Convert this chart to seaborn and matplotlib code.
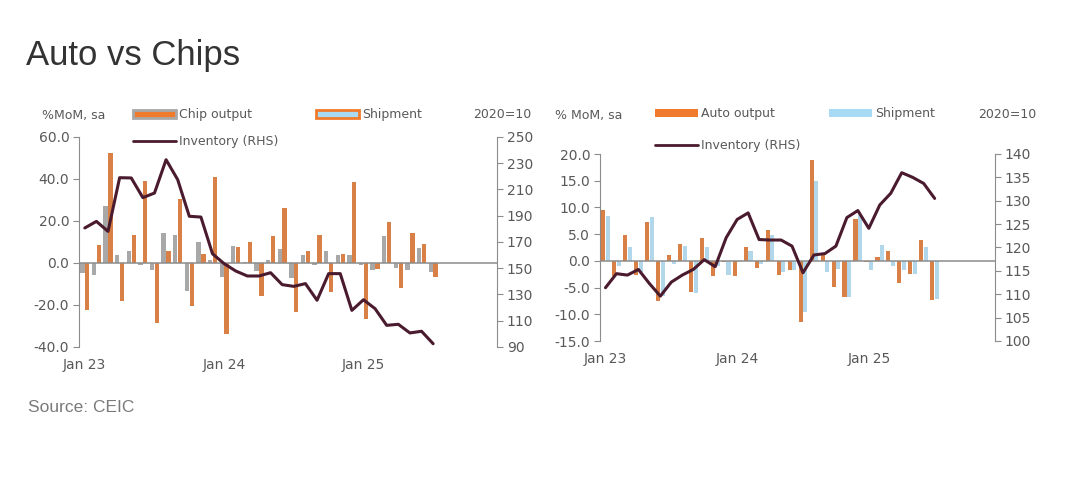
import numpy as np
import pandas as pd
import matplotlib
matplotlib.use("Agg")
import matplotlib.pyplot as plt
from matplotlib.patches import Patch
from matplotlib.lines import Line2D
import seaborn as sns

# month axis: Jan 23 .. Dec 25 (data up to Jul 25)
months = [f"{m} {y}" for y in ["23", "24", "25"]
          for m in ["Jan", "Feb", "Mar", "Apr", "May", "Jun",
                    "Jul", "Aug", "Sep", "Oct", "Nov", "Dec"]]
n_data = 31
tick_labels = ["Jan 23", "Jan 24", "Jan 25"]

# left panel: chips (%MoM, sa) and inventory index (2020=100)
chip_output = [-5, -5.9, 27, 3.7, 5.6, -1, -3.5, 14.5, 13.5, -13.4, 10, 1.5,
               -6.7, 8, 0.5, -4, 1.3, 6.5, -7, 4, -0.8, 5.6, 3.7, 4,
               -1, -3.5, 12.9, -2.4, -3.5, 7.2, -4.3]
chip_shipment = [-22.6, 8.8, 52.5, -18.3, 13.2, 39, -28.7, 5.9, 30.3, -20.6, 4.3, 41,
                 -33.8, 7.8, 9.8, -15.6, 12.8, 26, -23.5, 5.7, 13.2, -13.9, 4.3, 38.4,
                 -26.6, -2.7, 19.6, -11.8, 14.4, 9.2, -6.7]
chip_inventory = [180.7, 185.7, 178.1, 219, 218.8, 203.8, 207.3, 232.7, 217.5, 189.6, 189, 161,
                  153.5, 147.9, 144.1, 144.1, 146.6, 137.5, 136.2, 138.3, 125.6, 145.9, 145.9, 117.9,
                  126, 119.2, 106.5, 107.3, 100.7, 102, 92.5]

# right panel: autos
auto_output = [9.5, -2.8, 4.9, -2.6, 7.2, -7.6, 1.1, 3.1, -5.8, 4.2, -2.9, -0.3,
               -2.9, 2.5, -1.4, 5.8, -2.6, -1.7, -11.4, 18.8, 1.1, -4.9, -6.7, 7.8,
               -0.3, 0.8, 1.8, -4.2, -2.5, 3.9, -7.4]
auto_shipment = [8.4, -0.9, 2.6, -2.0, 8.3, -6.5, -0.6, 2.8, -6.0, 2.5, -1.0, -2.6,
                 -0.3, 1.8, -0.6, 4.9, -2.0, -1.7, -9.5, 15.0, -2.0, -1.6, -6.7, 8.5,
                 -1.8, 2.9, -1.0, -1.8, -2.4, 2.6, -7.1]
auto_inventory = [111.4, 114.4, 114.1, 115.3, 112.3, 109.6, 112.6, 114.1, 115.3, 117.4, 115.9, 122.1,
                  126, 127.4, 121.7, 121.6, 121.6, 120.3, 114.6, 118.4, 118.7, 120.3, 126.4, 127.9,
                  124.1, 129.1, 131.6, 136, 135, 133.7, 130.5]

ORANGE = "#F07B2C"
GREY = "#A8A8A8"
LBLUE = "#A9DAF3"
MAROON = "#4A1B2E"
AXC = "#8C8C8C"
TXT = "#595959"

sns.set_style("white")
plt.rcParams["font.family"] = ["DejaVu Sans"]

fig = plt.figure(figsize=(10.8, 4.98), dpi=100)


def panel(rect, s1, s2, name1, name2, c1, c2, inv, ylim, yticks, ylim2, yticks2):
    ax = fig.add_axes(rect)
    df = pd.DataFrame({
        "month": months[:n_data] * 2,
        "value": list(s1) + list(s2),
        "series": [name1] * n_data + [name2] * n_data,
    })
    sns.barplot(data=df, x="month", y="value", hue="series", order=months,
                hue_order=[name1, name2], palette={name1: c1, name2: c2},
                errorbar=None, width=0.85, gap=0.12, legend=False, ax=ax,
                linewidth=0)
    ax.axhline(0, color=AXC, lw=1.1, zorder=1)
    ax.set_xlim(-0.5, 35.5)
    ax.set_ylim(*ylim)
    ax.set_yticks(yticks)
    ax.set_yticklabels([f"{v:.1f}" for v in yticks])
    ax.set_xticks([0, 12, 24])
    ax.set_xticklabels(tick_labels)
    ax.set_xlabel("")
    ax.set_ylabel("")
    for s in ["top", "bottom", "right"]:
        ax.spines[s].set_visible(False)
    ax.spines["left"].set_color(AXC)
    ax.tick_params(axis="y", length=4, color=AXC, labelcolor=TXT, labelsize=10, pad=3)
    ax.tick_params(axis="x", length=0, labelcolor=TXT, labelsize=10, pad=8)

    ax2 = ax.twinx()
    sns.lineplot(x=np.arange(n_data), y=inv, ax=ax2, color=MAROON, lw=2.2)
    ax2.set_ylim(*ylim2)
    ax2.set_yticks(yticks2)
    for s in ["top", "bottom", "left"]:
        ax2.spines[s].set_visible(False)
    ax2.spines["right"].set_color(AXC)
    ax2.tick_params(axis="y", length=4, color=AXC, labelcolor=TXT, labelsize=10, pad=3)
    ax2.set_ylabel("")
    ax2.set_xlim(-0.5, 35.5)
    return ax


panel([79 / 1080, 1 - 347 / 498, 418 / 1080, 210 / 498],
      chip_output, chip_shipment, "Chip output", "Shipment", GREY, ORANGE,
      chip_inventory, (-40, 60), [60, 40, 20, 0, -20, -40],
      (90, 250), list(range(90, 251, 20)))

panel([600 / 1080, 1 - 341 / 498, 395 / 1080, 187 / 498],
      auto_output, auto_shipment, "Auto output", "Shipment", ORANGE, LBLUE,
      auto_inventory, (-15, 20), [20, 15, 10, 5, 0, -5, -10, -15],
      (100, 140), list(range(100, 141, 5)))

# legends
leg_kw = dict(ncol=2, loc="upper left", frameon=False, fontsize=9,
              handlelength=3.4, handleheight=0.6, borderpad=0, borderaxespad=0,
              labelcolor=TXT, handletextpad=0.3)

h_left = [Patch(facecolor=ORANGE, edgecolor=GREY, lw=2),
          Line2D([0], [0], color=MAROON, lw=2),
          Patch(facecolor=LBLUE, edgecolor=ORANGE, lw=2)]
fig.legend(h_left, ["Chip output", "Inventory (RHS)", "Shipment"],
           bbox_to_anchor=(133 / 1080, 1 - 108 / 498), columnspacing=3.0,
           labelspacing=1.1, **leg_kw)

h_right = [Patch(facecolor=ORANGE, edgecolor=ORANGE, lw=0),
           Line2D([0], [0], color=MAROON, lw=2),
           Patch(facecolor=LBLUE, edgecolor=LBLUE, lw=0)]
fig.legend(h_right, ["Auto output", "Inventory (RHS)", "Shipment"],
           bbox_to_anchor=(655 / 1080, 1 - 107 / 498), columnspacing=2.3,
           labelspacing=1.5, **leg_kw)

# unit labels
fig.text(42 / 1080, 1 - 116 / 498, "%MoM, sa", fontsize=9, color=TXT, va="center")
fig.text(473 / 1080, 1 - 114 / 498, "2020=10", fontsize=9, color=TXT, va="center")
fig.text(555 / 1080, 1 - 116 / 498, "% MoM, sa", fontsize=9, color=TXT, va="center")
fig.text(978 / 1080, 1 - 114 / 498, "2020=10", fontsize=9, color=TXT, va="center")

fig.text(26 / 1080, 1 - 56 / 498, "Auto vs Chips", fontsize=25, color="#333333",
         va="center", family=["Liberation Sans", "DejaVu Sans"])
fig.text(28 / 1080, 1 - 408 / 498, "Source: CEIC", fontsize=12.5, color="#7a7a7a",
         va="center", family=["Liberation Sans", "DejaVu Sans"])

fig.savefig("out.png", dpi=100)
